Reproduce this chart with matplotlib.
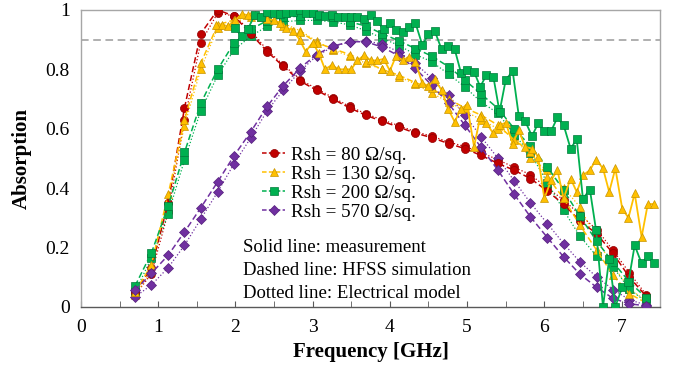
import matplotlib
matplotlib.use("Agg")
import matplotlib.pyplot as plt
from matplotlib.lines import Line2D

plt.rcParams['font.family'] = ['Liberation Serif', 'DejaVu Serif']

# Simulation / model frequency grid (GHz)
freq_sim = [0.70, 0.91, 1.13, 1.34, 1.55, 1.77, 1.98, 2.20, 2.41, 2.62, 2.84, 3.05, 3.26, 3.48,
            3.69, 3.90, 4.12, 4.33, 4.54, 4.76, 4.97, 5.18, 5.40, 5.61, 5.82, 6.04, 6.25, 6.46,
            6.68, 6.89, 7.10, 7.32]

# Measurement frequency grid (GHz)
freq_meas = [1.75, 1.83, 1.91, 2.00, 2.08, 2.16, 2.25, 2.33, 2.41, 2.50, 2.58, 2.66, 2.75, 2.83,
             2.91, 3.00, 3.08, 3.16, 3.25, 3.33, 3.42, 3.50, 3.58, 3.67, 3.75, 3.83, 3.92, 4.00,
             4.08, 4.17, 4.25, 4.33, 4.42, 4.50, 4.58, 4.67, 4.75, 4.84, 4.92, 5.00, 5.09, 5.17,
             5.25, 5.34, 5.42, 5.50, 5.59, 5.67, 5.75, 5.84, 5.92, 6.00, 6.09, 6.17, 6.25, 6.34,
             6.42, 6.50, 6.59, 6.67, 6.76, 6.84, 6.92, 7.01, 7.09, 7.17, 7.26, 7.34, 7.42]

# Rsh = 80 ohm/sq
red_sim = [0.05, 0.13, 0.35, 0.67, 0.92, 1.00, 0.98, 0.92, 0.86, 0.81, 0.76, 0.73, 0.70, 0.67,
           0.645, 0.625, 0.605, 0.585, 0.57, 0.55, 0.533, 0.51, 0.483, 0.46, 0.432, 0.39, 0.345,
           0.29, 0.245, 0.18, 0.10, 0.035]
red_model = [0.04, 0.11, 0.32, 0.63, 0.89, 0.99, 0.98, 0.93, 0.865, 0.815, 0.765, 0.735, 0.705,
             0.675, 0.65, 0.63, 0.61, 0.59, 0.575, 0.555, 0.54, 0.52, 0.495, 0.47, 0.445, 0.40,
             0.36, 0.31, 0.26, 0.19, 0.115, 0.04]

# Rsh = 130 ohm/sq
yel_sim = [0.05, 0.14, 0.38, 0.63, 0.82, 0.95, 0.966, 0.983, 0.975, 0.946, 0.927, 0.89, 0.87,
           0.85, 0.825, 0.80, 0.78, 0.755, 0.736, 0.70, 0.67, 0.646, 0.612, 0.562, 0.522, 0.438,
           0.365, 0.275, 0.19, 0.106, 0.044, 0.013]
yel_model = [0.04, 0.12, 0.36, 0.61, 0.80, 0.94, 0.96, 0.975, 0.97, 0.955, 0.93, 0.895, 0.865,
             0.845, 0.82, 0.80, 0.775, 0.75, 0.72, 0.69, 0.66, 0.63, 0.60, 0.575, 0.50, 0.46,
             0.40, 0.337, 0.224, 0.14, 0.06, 0.02]
yel_meas = [0.95, 0.95, 0.945, 0.966, 0.986, 0.983, 0.983, 0.975, 0.97, 0.965, 0.957, 0.94, 0.93,
            0.90, 0.86, 0.89, 0.854, 0.80, 0.815, 0.80, 0.80, 0.80, 0.83, 0.848, 0.83, 0.83,
            0.835, 0.795, 0.845, 0.83, 0.843, 0.826, 0.753, 0.744, 0.766, 0.73, 0.668, 0.623,
            0.668, 0.68, 0.539, 0.64, 0.618, 0.584, 0.612, 0.62, 0.55, 0.595, 0.539, 0.533,
            0.505, 0.365, 0.427, 0.46, 0.365, 0.432, 0.387, 0.443, 0.46, 0.496, 0.466, 0.387,
            0.466, 0.329, 0.30, 0.382, 0.235, 0.346, 0.346]

# Rsh = 200 ohm/sq
grn_sim = [0.07, 0.18, 0.34, 0.52, 0.685, 0.80, 0.888, 0.935, 0.964, 0.975, 0.98, 0.98, 0.975,
           0.96, 0.946, 0.92, 0.896, 0.87, 0.845, 0.809, 0.764, 0.717, 0.668, 0.60, 0.541,
           0.471, 0.393, 0.305, 0.22, 0.15, 0.084, 0.03]
grn_model = [0.05, 0.163, 0.314, 0.494, 0.66, 0.78, 0.865, 0.912, 0.945, 0.96, 0.965, 0.965,
             0.96, 0.95, 0.93, 0.905, 0.88, 0.85, 0.826, 0.784, 0.741, 0.69, 0.652, 0.58,
             0.517, 0.418, 0.325, 0.238, 0.17, 0.134, 0.06, 0.016]
grn_meas = [None, None, None, 0.938, 0.912, 0.935, 0.983, 0.978, 0.994, 0.989, 0.986, 0.99,
            0.994, 1.0, 0.99, 0.989, 0.983, 0.98, 0.983, 0.975, 0.975, 0.977, 0.977, 0.97,
            0.983, 0.964, 0.935, 0.955, 0.933, 0.927, 0.944, 0.957, 0.882, 0.919, 0.93, 0.867,
            0.878, 0.867, 0.789, 0.798, 0.792, 0.741, 0.781, 0.775, 0.657, 0.764, 0.794, 0.642,
            0.627, 0.575, 0.618, 0.593, 0.593, 0.638, 0.612, 0.533, 0.564, 0.364, 0.395, 0.258,
            0.0, 0.162, 0.0, 0.067, 0.084, 0.207, 0.146, 0.17, 0.148]

# Rsh = 570 ohm/sq
pur_sim = [0.055, 0.112, 0.174, 0.252, 0.333, 0.421, 0.508, 0.59, 0.675, 0.745, 0.805, 0.85,
           0.878, 0.893, 0.893, 0.875, 0.845, 0.803, 0.747, 0.685, 0.612, 0.537, 0.46, 0.379,
           0.303, 0.233, 0.168, 0.11, 0.065, 0.028, 0.01, 0.003]
pur_model = [0.033, 0.073, 0.132, 0.207, 0.295, 0.387, 0.481, 0.57, 0.66, 0.73, 0.795, 0.845,
             0.876, 0.893, 0.896, 0.885, 0.858, 0.82, 0.77, 0.713, 0.646, 0.573, 0.50, 0.424,
             0.35, 0.28, 0.213, 0.151, 0.10, 0.058, 0.024, 0.005]

labels = ["Rsh = 80 \u03a9/sq.", "Rsh = 130 \u03a9/sq.", "Rsh = 200 \u03a9/sq.", "Rsh = 570 \u03a9/sq."]
notes = ["Solid line: measurement", "Dashed line: HFSS simulation", "Dotted line: Electrical model"]
xticks = [0, 1, 2, 3, 4, 5, 6, 7]
yticks = [0, 0.2, 0.4, 0.6, 0.8, 1]
ytick_labels = ["0", "0.2", "0.4", "0.6", "0.8", "1"]

RED, YEL, GRN, PUR = "#C00000", "#FFC000", "#00B050", "#7030A0"

fig = plt.figure(figsize=(6.75, 3.7), dpi=100)
ax = fig.add_axes([0.12, 0.171, 0.858, 0.802])

def series(x, y, color, marker, ls, lw, ms, edge, z):
    pts = [(a, b) for a, b in zip(x, y) if b is not None]
    xs = [p[0] for p in pts]
    ys = [p[1] for p in pts]
    ax.plot(xs, ys, color=color, linestyle=ls, linewidth=lw, marker=marker, markersize=ms,
            markerfacecolor=color, markeredgecolor=edge, markeredgewidth=0.5, zorder=z,
            clip_on=True)

ax.axhline(0.9, color="#9a9a9a", linestyle=(0, (5, 3)), linewidth=1.1, zorder=1)

specs = [
    (red_sim, red_model, None, RED, "o", 5.8, "#900000"),
    (yel_sim, yel_model, yel_meas, YEL, "^", 6.2, "#c89400"),
    (grn_sim, grn_model, grn_meas, GRN, "s", 5.6, "#007a3a"),
    (pur_sim, pur_model, None, PUR, "D", 4.6, "#55207c"),
]
for sim, model, meas, c, m, ms, ec in specs:
    series(freq_sim, model, c, m, ":", 0.9, ms, ec, 2)
    series(freq_sim, sim, c, m, (0, (4, 2)), 1.1, ms, ec, 3)
for sim, model, meas, c, m, ms, ec in specs:
    if meas is not None:
        series(freq_meas, meas, c, m, "-", 1.3, ms, ec, 4)

ax.set_xlim(0, 7.5)
ax.set_ylim(0, 1)
ax.set_xticks(xticks)
ax.set_xticks([0.5, 1.5, 2.5, 3.5, 4.5, 5.5, 6.5, 7.5], minor=True)
ax.set_yticks(yticks)
ax.set_yticklabels(ytick_labels)
ax.tick_params(axis="x", which="both", direction="in", length=4, color="#595959",
               labelsize=14, pad=9)
ax.tick_params(axis="y", length=0, labelsize=14, pad=8)
for s in ["top", "right", "left"]:
    ax.spines[s].set_color("#a6a6a6")
    ax.spines[s].set_linewidth(1.0)
ax.spines["bottom"].set_color("#595959")
ax.spines["bottom"].set_linewidth(1.0)

ax.set_xlabel("Frequency [GHz]", fontsize=15, fontweight="bold", labelpad=4)
ax.set_ylabel("Absorption", fontsize=15, fontweight="bold", labelpad=10)

handles = [Line2D([], [], color=c, marker=m, linestyle=(0, (3, 1.5)), linewidth=1.1,
                  markersize=ms, markerfacecolor=c, markeredgecolor=ec, markeredgewidth=0.5)
           for (_, _, _, c, m, ms, ec) in specs]
ax.legend(handles, labels, loc="upper left", bbox_to_anchor=(0.29, 0.585), frameon=False,
          fontsize=13.8, handlelength=1.2, handletextpad=0.3, labelspacing=0.08,
          borderpad=0.2)

for i, t in enumerate(notes):
    ax.text(0.28, 0.20 - i * 0.078, t, transform=ax.transAxes, fontsize=13.5,
            va="center", ha="left")

fig.savefig("out.png", dpi=100)
